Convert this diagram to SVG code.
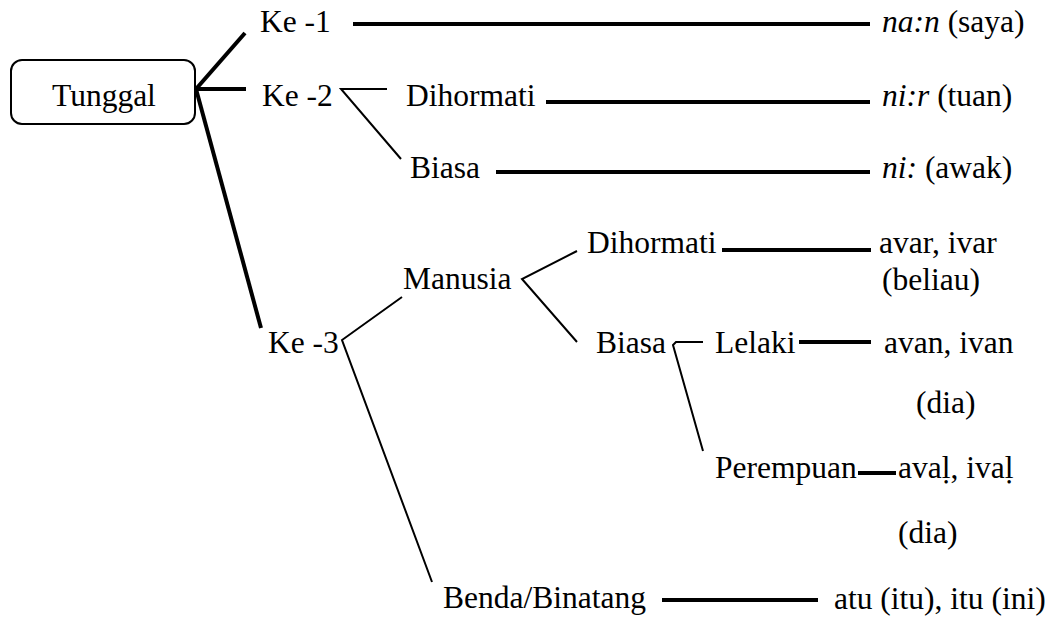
<svg xmlns="http://www.w3.org/2000/svg" width="1061" height="617" viewBox="0 0 1061 617">
  <style>
    text { font-family: 'Liberation Serif', 'Times New Roman', Tinos, 'DejaVu Serif', serif; font-size: 31.5px; fill: #000; }
    .it { font-style: italic; }
    .thick { stroke: #000; stroke-width: 4; fill: none; }
    .thin { stroke: #000; stroke-width: 2; fill: none; }
    .box { stroke: #000; stroke-width: 2; fill: #fff; }
  </style>
  <rect width="1061" height="617" fill="#fff"/>

  <!-- connectors -->
  <g id="connectors">
    <!-- from Tunggal -->
    <line class="thick" x1="196" y1="89" x2="245" y2="33"/>
    <line class="thick" x1="196" y1="89" x2="246" y2="89"/>
    <line class="thick" x1="196" y1="89" x2="261" y2="328"/>
    <!-- Ke -1 -->
    <line class="thick" x1="353" y1="24" x2="870" y2="24"/>
    <!-- Ke -2 split -->
    <polyline class="thin" points="387,89 341,89 401,159"/>
    <line class="thick" x1="546" y1="102" x2="870" y2="102"/>
    <line class="thick" x1="496" y1="172" x2="870" y2="172"/>
    <!-- Ke -3 split -->
    <polyline class="thin" points="402,297 342,340 432,582"/>
    <!-- Manusia split -->
    <polyline class="thin" points="577,251 522,279 577,342"/>
    <line class="thick" x1="722" y1="250" x2="871" y2="250"/>
    <!-- Biasa split -->
    <polyline class="thin" points="703,342 676,342 673,345 703,451"/>
    <line class="thick" x1="799" y1="342" x2="871" y2="342"/>
    <line class="thick" x1="858" y1="473" x2="896" y2="473"/>
    <!-- Benda/Binatang -->
    <line class="thick" x1="662" y1="600" x2="818" y2="600"/>
  </g>

  <g id="tunggal">
    <rect class="box" x="11" y="60" width="184" height="64" rx="11" ry="11"/>
    <text x="52" y="106">Tunggal</text>
  </g>

  <g id="ke1"><text x="260" y="32">Ke -1</text></g>
  <g id="ke2"><text x="262" y="106">Ke -2</text></g>
  <g id="ke3"><text x="268" y="353">Ke -3</text></g>

  <g id="ke2-dihormati"><text x="406" y="106">Dihormati</text></g>
  <g id="ke2-biasa"><text x="410" y="178">Biasa</text></g>

  <g id="manusia"><text x="403" y="289">Manusia</text></g>
  <g id="ke3-dihormati"><text x="587" y="253">Dihormati</text></g>
  <g id="ke3-biasa"><text x="596" y="353">Biasa</text></g>
  <g id="lelaki"><text x="715" y="353">Lelaki</text></g>
  <g id="perempuan"><text x="715" y="478">Perempuan</text></g>
  <g id="benda"><text x="443" y="608">Benda/Binatang</text></g>

  <g id="naan"><text x="882" y="32"><tspan class="it">na:n</tspan> (saya)</text></g>
  <g id="niir"><text x="882" y="106"><tspan class="it">ni:r</tspan> (tuan)</text></g>
  <g id="nii"><text x="882" y="178"><tspan class="it">ni:</tspan> (awak)</text></g>
  <g id="avar">
    <text x="879" y="253">avar, ivar</text>
    <text x="882" y="290">(beliau)</text>
  </g>
  <g id="avan">
    <text x="884" y="353">avan, ivan</text>
    <text x="916" y="413">(dia)</text>
  </g>
  <g id="aval">
    <text x="898" y="478">avaḷ, ivaḷ</text>
    <text x="898" y="543">(dia)</text>
  </g>
  <g id="atu"><text x="834" y="609">atu (itu), itu (ini)</text></g>
</svg>
